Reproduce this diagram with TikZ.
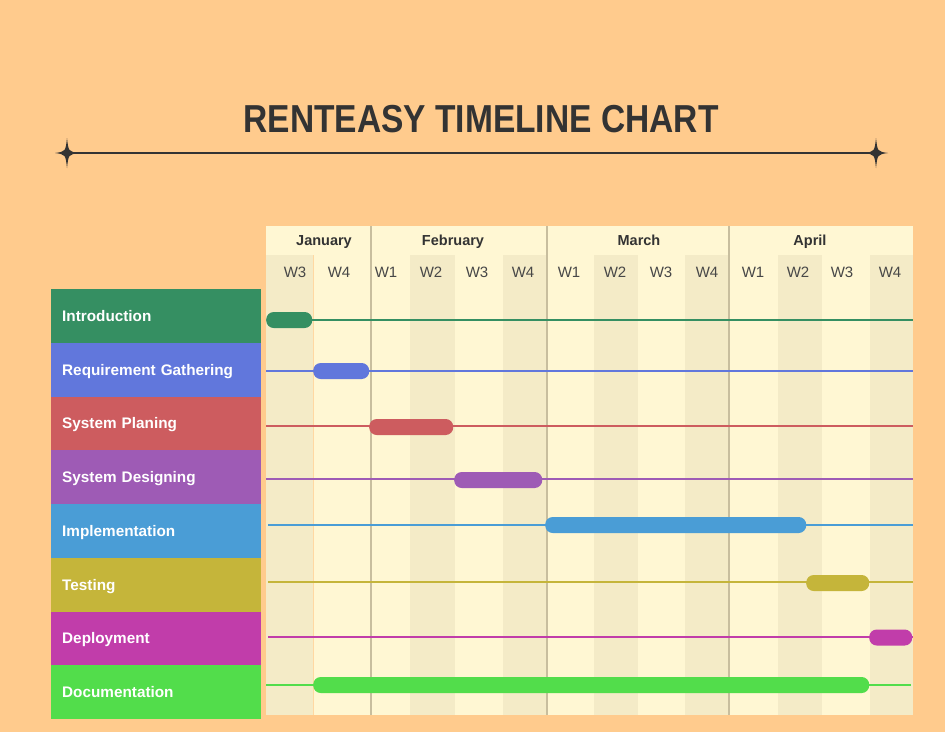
\documentclass[tikz,border=0pt]{standalone}
\usepackage{fontspec}
\usepackage{graphicx}
\setmainfont{Liberation Sans}
\definecolor{bg}{HTML}{FFCB8D}
\definecolor{ink}{HTML}{333333}
\definecolor{paleA}{HTML}{FFF7D3}
\definecolor{paleB}{HTML}{F4EBC7}
\definecolor{rule}{HTML}{C8BE9E}
\definecolor{cIntro}{HTML}{358F62}
\definecolor{cReq}{HTML}{6177DC}
\definecolor{cPlan}{HTML}{CD5C5F}
\definecolor{cDes}{HTML}{9E5BB5}
\definecolor{cImp}{HTML}{4A9DD6}
\definecolor{cTest}{HTML}{C5B53A}
\definecolor{cDep}{HTML}{C13DAA}
\definecolor{cDoc}{HTML}{52DD4B}
\tikzset{spark/.pic={\fill[ink] (0,-15) .. controls (1.5,-1.5) .. (12,0) .. controls (1.5,1.5) .. (0,15) .. controls (-1.5,1.5) .. (-12,0) .. controls (-1.5,-1.5) .. cycle;}}
\begin{document}
\begin{tikzpicture}[x=1pt,y=-1pt,
 lab/.style={fill=#1,anchor=north west,minimum height=53.75pt,text width=188pt,inner xsep=11pt,inner ysep=0pt,text=white,font=\bfseries\fontsize{15.3}{18}\selectfont,text height=12.5pt,text depth=2pt},
 bar/.style={fill=#1,rounded corners=7.5pt,minimum height=16pt,inner sep=0pt,anchor=west},
 trk/.style={draw=#1,line width=1.5pt},
 mon/.style={font=\bfseries\fontsize{14.5}{17}\selectfont,text=ink},
 wk/.style={font=\fontsize{15}{18}\selectfont,text=ink!90}]
\fill[bg] (0,0) rectangle (945,732);\useasboundingbox (0,0) rectangle (945,732);
% title
\node[font=\bfseries\fontsize{39}{44}\selectfont,text=ink] (title) at (481,119){\scalebox{0.86}[1]{RENTEASY TIMELINE CHART}};
\coordinate (sl) at (67,153);\coordinate (sr) at (876,153);
\draw[ink,line width=2pt] (sl)--(sr);\pic at (sl){spark};\pic at (sr){spark};
% grid
\fill[paleA] (266,226) rectangle (913,715);
\foreach \a/\b in {266/313,410/455,503/547,594/638,685/729,778/822,870/913}{\fill[paleB] (\a,255) rectangle (\b,715);}
\draw[bg!70!paleA,line width=1pt] (313,255)--(313,715);
\foreach \x in {371,547,729}{\draw[rule,line width=1.5pt] (\x,226)--(\x,715);}
\node[mon] (jan) at (324,242){January};\node[mon] (feb) at (453,242){February};\node[mon] (mar) at (639,240.5){March};\node[mon] (apr) at (810,242){April};
\node[wk] (w1) at (295,272){W3};\node[wk] (w2) at (339,272){W4};
\node[wk] (w3) at (386,272){W1};\node[wk] (w4) at (431,272){W2};\node[wk] (w5) at (477,272){W3};\node[wk] (w6) at (523,272){W4};
\node[wk] (w7) at (569,272){W1};\node[wk] (w8) at (615,272){W2};\node[wk] (w9) at (661,272){W3};\node[wk] (w10) at (707,272){W4};
\node[wk] (w11) at (753,272){W1};\node[wk] (w12) at (798,272){W2};\node[wk] (w13) at (842,272){W3};\node[wk] (w14) at (890,272){W4};
% tasks
\node[lab=cIntro] (tIntro) at (51,289){Introduction};\coordinate (aIntro) at (312,320);\coordinate (eIntro) at (913,320);
\draw[trk=cIntro] (aIntro)--(eIntro);\node[bar=cIntro,minimum width=46pt] (bIntro) at (266,320){};
\node[lab=cReq] (tReq) at (51,342.75){Requirement Gathering};\coordinate (aReq) at (266,371);\coordinate (eReq) at (913,371);
\draw[trk=cReq] (aReq)--(eReq);\node[bar=cReq,minimum width=56pt] (bReq) at (313,371){};
\node[lab=cPlan] (tPlan) at (51,396.5){System Planing};\coordinate (aPlan) at (266,426);\coordinate (ePlan) at (913,426);
\draw[trk=cPlan] (aPlan)--(ePlan);\node[bar=cPlan,minimum width=84pt] (bPlan) at (369,427){};
\node[lab=cDes] (tDes) at (51,450.25){System Designing};\coordinate (aDes) at (266,479);\coordinate (eDes) at (913,479);
\draw[trk=cDes] (aDes)--(eDes);\node[bar=cDes,minimum width=88pt] (bDes) at (454,480){};
\node[lab=cImp] (tImp) at (51,504){Implementation};\coordinate (aImp) at (268,525);\coordinate (eImp) at (913,525);
\draw[trk=cImp] (aImp)--(eImp);\node[bar=cImp,minimum width=261pt] (bImp) at (545,525){};
\node[lab=cTest] (tTest) at (51,557.75){Testing};\coordinate (aTest) at (268,582);\coordinate (eTest) at (913,582);
\draw[trk=cTest] (aTest)--(eTest);\node[bar=cTest,minimum width=63pt] (bTest) at (806,583){};
\node[lab=cDep] (tDep) at (51,611.5){Deployment};\coordinate (aDep) at (268,637);\coordinate (eDep) at (913,637);
\draw[trk=cDep] (aDep)--(eDep);\node[bar=cDep,minimum width=43pt] (bDep) at (869,637.5){};
\node[lab=cDoc] (tDoc) at (51,665.25){Documentation};\coordinate (aDoc) at (266,685);\coordinate (eDoc) at (911,685);
\draw[trk=cDoc] (aDoc)--(eDoc);\node[bar=cDoc,minimum width=556pt] (bDoc) at (313,685){};
\end{tikzpicture}
\end{document}
